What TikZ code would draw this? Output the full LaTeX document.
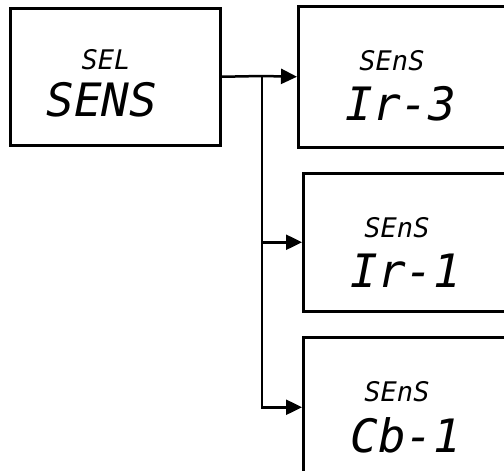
\documentclass[tikz,border=0pt]{standalone}
\usepackage{fontspec}
\setmonofont{DejaVu Sans Mono}
\usetikzlibrary{arrows.meta}
\tikzset{
  panel/.style={draw,line width=2.5pt,anchor=north west,inner sep=0pt},
  segsmall/.style={font=\ttfamily\itshape\fontsize{27}{27}\selectfont,inner sep=0pt},
  segbig/.style={font=\ttfamily\itshape\fontsize{46}{46}\selectfont,inner sep=0pt},
  link/.style={line width=2.5pt},
  tip/.style={link,-{Triangle[length=16pt,width=15pt]}},
}
\begin{document}
\begin{tikzpicture}[x=1pt,y=-1pt]
  \useasboundingbox (0,0) rectangle (504,471);
  \clip (0,0) rectangle (504,471);

  % main menu entry
  \node[panel,minimum width=210pt,minimum height=137pt] (sel) at (9,7) {};
  \node[segsmall] (selA) at (106,60) {SEL};
  \node[segbig] (selB) at (102,100) {SENS};

  % the three sensor choices
  \foreach \n\x\y\h\t in {
      ir3/297/5/141/Ir-3,
      ir1/302/172/138/Ir-1,
      cb1/302/336/140/Cb-1}{
    \node[panel,minimum width=230pt,minimum height=\h pt] (\n) at (\x,\y) {};
    \node[segsmall] (\n-top) at ({\x+95},{\y+56}) {SEnS};
    \node[segbig] (\n-bot) at ({\x+104},{\y+99}) {\t};
  }

  \coordinate (split) at (262,76);
  \draw[link] (sel.east) -- (split);
  \draw[tip] (split) -- (ir3.west);
  \draw[tip] (split) |- (ir1.west);
  \draw[tip] (split) |- (cb1.west);
\end{tikzpicture}
\end{document}
